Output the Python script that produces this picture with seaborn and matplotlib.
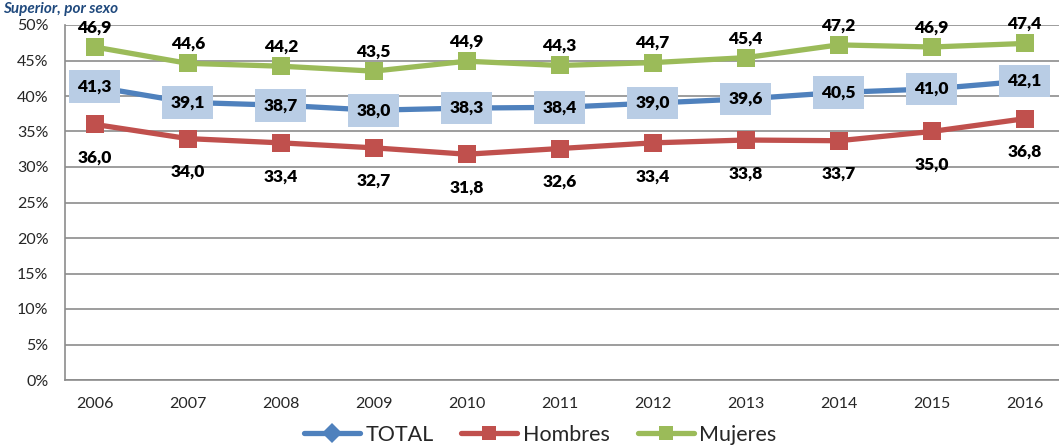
import matplotlib
matplotlib.use('Agg')
import matplotlib.pyplot as plt
import seaborn as sns
import pandas as pd

years = [2006, 2007, 2008, 2009, 2010, 2011, 2012, 2013, 2014, 2015, 2016]
total = [41.3, 39.1, 38.7, 38.0, 38.3, 38.4, 39.0, 39.6, 40.5, 41.0, 42.1]
hombres = [36.0, 34.0, 33.4, 32.7, 31.8, 32.6, 33.4, 33.8, 33.7, 35.0, 36.8]
mujeres = [46.9, 44.6, 44.2, 43.5, 44.9, 44.3, 44.7, 45.4, 47.2, 46.9, 47.4]
series_names = ['TOTAL', 'Hombres', 'Mujeres']
y_ticks = [0, 5, 10, 15, 20, 25, 30, 35, 40, 45, 50]

palette = {'TOTAL': '#4F81BD', 'Hombres': '#C0504D', 'Mujeres': '#9BBB59'}
markers = {'TOTAL': 'D', 'Hombres': 's', 'Mujeres': 's'}

df = pd.concat([
    pd.DataFrame({'year': years, 'value': vals, 'serie': name})
    for name, vals in zip(series_names, [total, hombres, mujeres])
])

sns.set_theme(style='white')
plt.rcParams['font.family'] = ['Lato', 'DejaVu Sans']

fig = plt.figure(figsize=(10.59, 4.46), dpi=100)
ax = fig.add_axes([65 / 1059, 1 - 380 / 446, 1 - 65 / 1059, 355 / 446])

sns.lineplot(data=df, x='year', y='value', hue='serie', style='serie',
             palette=palette, markers=markers, dashes=False,
             linewidth=3.8, markersize=13, markeredgewidth=0, ax=ax)

ax.set_xlim(2005.68, 2016.37)
ax.set_ylim(0, 50)
ax.set_xticks(years)
ax.set_xticklabels([str(y) for y in years], fontsize=11.5)
ax.set_yticks(y_ticks)
ax.set_yticklabels([f'{t}%' for t in y_ticks], fontsize=11.5)
ax.tick_params(axis='x', pad=12, length=0)
ax.tick_params(axis='y', pad=12, length=0)
ax.set_xlabel('')
ax.set_ylabel('')
ax.yaxis.grid(True, color='#8C8C8C', linewidth=1.2)
ax.set_axisbelow(True)
for side in ['top', 'right']:
    ax.spines[side].set_visible(False)
for side in ['left', 'bottom']:
    ax.spines[side].set_color('#8C8C8C')
    ax.spines[side].set_linewidth(1.2)

# Data labels
fmt = lambda v: f'{v:.1f}'.replace('.', ',')
label_style = dict(ha='center', va='center', fontsize=12.5,
                   fontweight='heavy', color='black')
for x, v in zip(years, mujeres):
    ax.annotate(fmt(v), (x, v), xytext=(0, 14), textcoords='offset points',
                **label_style)
for x, v in zip(years, hombres):
    ax.annotate(fmt(v), (x, v), xytext=(0, -24), textcoords='offset points',
                **label_style)
for x, v in zip(years, total):
    ax.annotate(fmt(v), (x, v), xytext=(0, 0), textcoords='offset points',
                bbox=dict(boxstyle='square,pad=0.48', facecolor='#B9CDE5',
                          edgecolor='none'),
                **label_style)

# Legend
handles, labels = ax.get_legend_handles_labels()
for h in handles:
    h.set_markersize(10)
    h.set_linewidth(3.8)
ax.legend(handles, labels, loc='center', bbox_to_anchor=(540 / 1059, 1 - 435 / 446),
          bbox_transform=fig.transFigure, ncol=3, frameon=False, fontsize=15.5,
          handlelength=2.6, handletextpad=0.25, columnspacing=1.3)

# Title
fig.text(0.003, 1 - 2 / 446, 'Superior, por sexo', ha='left', va='top',
         fontsize=11, fontweight='bold', fontstyle='italic', color='#1F497D')

fig.savefig('out.png', dpi=100)
